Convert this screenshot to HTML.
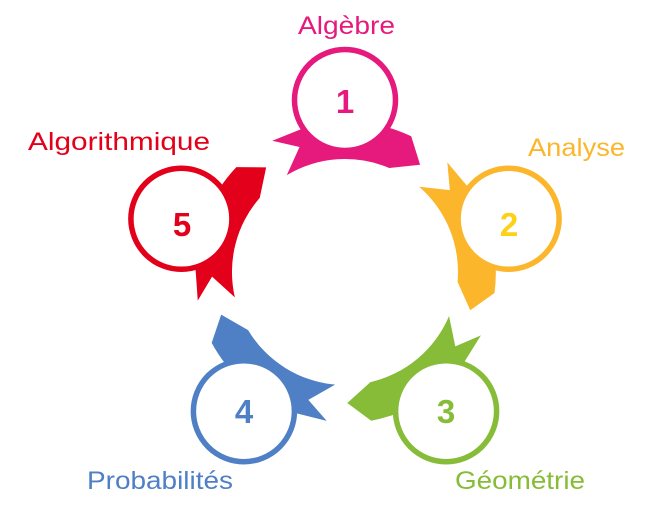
<!DOCTYPE html>
<html><head><meta charset="utf-8"><style>
html,body{margin:0;padding:0;background:#fff;}
svg{display:block;}
text{font-family:"Liberation Sans",sans-serif;}
</style></head><body>
<svg width="656" height="507" viewBox="0 0 656 507" xmlns="http://www.w3.org/2000/svg">
<defs>
<path id="arr" d="M -72.7 -131.2 L -45.5 -125 L -58.2 -96.9 A 113 113 0 0 1 44.2 -104 L 75.1 -107.3 L 66.2 -135.7 A 150 150 0 0 0 -38.8 -144.9 Z"/>
</defs>
<g transform="translate(345,272)">
<use href="#arr" fill="#e6197d"/>
<use href="#arr" fill="#fbb62b" transform="rotate(72)"/>
<use href="#arr" fill="#86bc37" transform="rotate(144)"/>
<use href="#arr" fill="#4f7fc4" transform="rotate(216)"/>
<use href="#arr" fill="#e2001a" transform="rotate(288)"/>
<g fill="#fff" stroke-width="5.5">
<circle cx="0" cy="-172" r="50.5" stroke="#e6197d"/>
<circle cx="163.6" cy="-53.2" r="50.5" stroke="#fbb62b"/>
<circle cx="101.1" cy="139.2" r="50.5" stroke="#86bc37"/>
<circle cx="-101.1" cy="139.2" r="50.5" stroke="#4f7fc4"/>
<circle cx="-163.6" cy="-53.2" r="50.5" stroke="#e2001a"/>
</g>
</g>
<g font-weight="bold" font-size="33" text-anchor="middle">
<text x="345" y="113" fill="#e6197d">1</text>
<text x="509" y="236" fill="#fcd116">2</text>
<text x="446" y="423" fill="#86bc37">3</text>
<text x="244" y="423" fill="#4f7fc4">4</text>
<text x="182" y="236" fill="#e2001a">5</text>
</g>
<g font-size="25">
<text x="298" y="34" textLength="97" lengthAdjust="spacingAndGlyphs" fill="#e6197d">Algèbre</text>
<text x="528" y="156" textLength="97" lengthAdjust="spacingAndGlyphs" fill="#fbb62b">Analyse</text>
<text x="455" y="489" textLength="130" lengthAdjust="spacingAndGlyphs" fill="#86bc37">Géométrie</text>
<text x="87" y="489" textLength="146" lengthAdjust="spacingAndGlyphs" fill="#4f7fc4">Probabilités</text>
<text x="28" y="150" textLength="182" lengthAdjust="spacingAndGlyphs" fill="#e2001a">Algorithmique</text>
</g>
</svg>
</body></html>
